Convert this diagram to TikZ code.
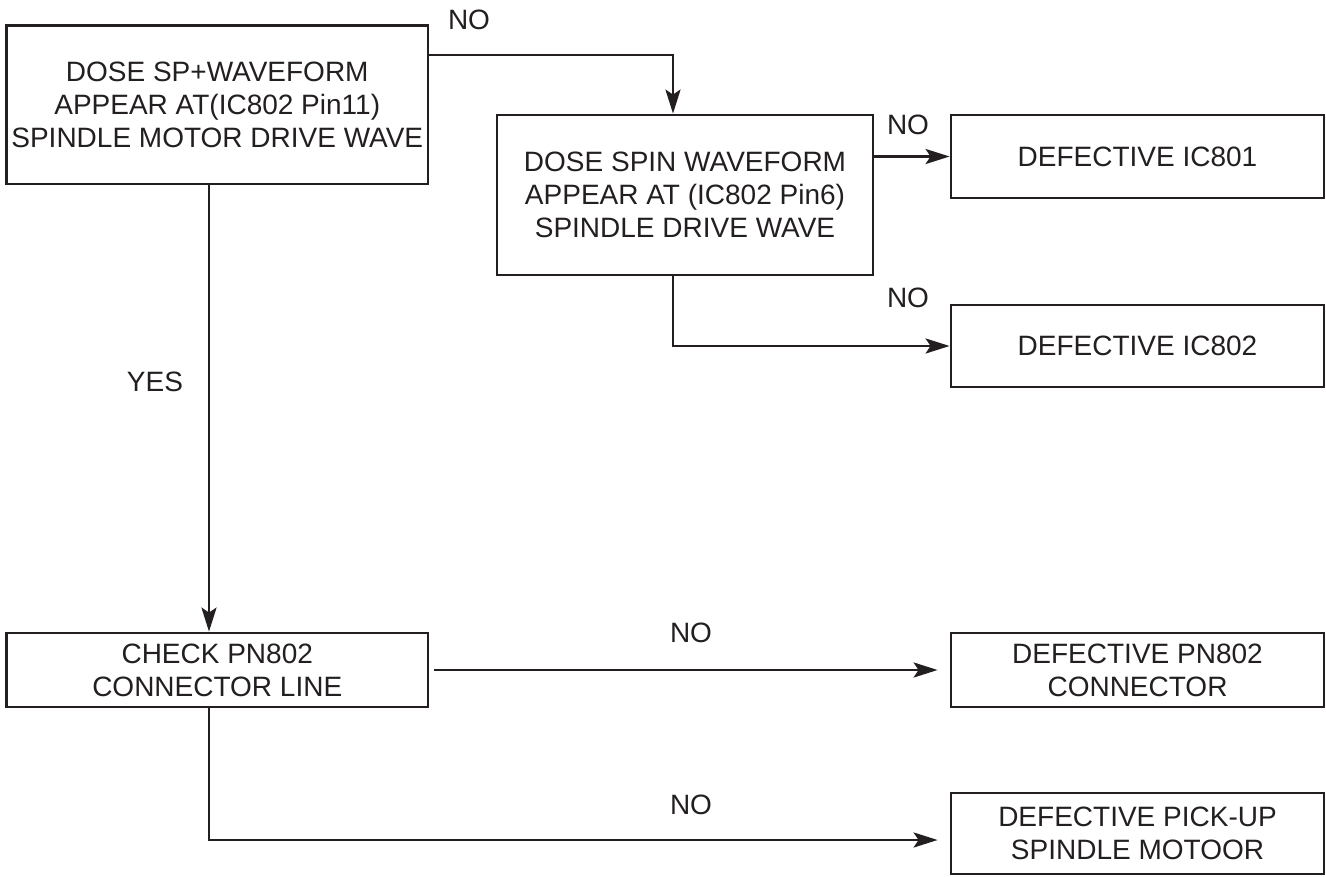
\documentclass[tikz,border=0pt]{standalone}
\usepackage{fontspec}
\setmainfont{Liberation Sans}
\usetikzlibrary{arrows.meta}
\definecolor{ink}{RGB}{35,31,32}
\begin{document}
\begin{tikzpicture}[x=1pt,y=-1pt,
  every node/.style={font=\fontsize{28}{33}\selectfont, text=ink},
  box/.style={draw=ink, line width=2.8pt, rectangle, inner sep=0pt, align=center},
  link/.style={draw=ink, line width=2.8pt},
  arr/.style={link, -{Stealth[length=24pt,width=15pt,inset=5pt]}},
  lbl/.style={inner sep=0pt}]
\useasboundingbox (0,0) rectangle (1326,876);

% decision and result boxes
\node[box, minimum width=421.5pt, minimum height=158.5pt] (A) at (217.25,104.75)
  {DOSE SP+WAVEFORM\\APPEAR AT(IC802 Pin11)\\SPINDLE MOTOR DRIVE WAVE};
\node[box, minimum width=376pt, minimum height=160pt] (B) at (685,195)
  {DOSE SPIN WAVEFORM\\APPEAR AT (IC802 Pin6)\\SPINDLE DRIVE WAVE};
\node[box, minimum width=373pt, minimum height=83pt] (C) at (1137.5,156.5) {DEFECTIVE IC801};
\node[box, minimum width=373pt, minimum height=82pt] (D) at (1137.5,346) {DEFECTIVE IC802};
\node[box, minimum width=421.5pt, minimum height=74pt] (E) at (217.25,670)
  {CHECK PN802\\CONNECTOR LINE};
\node[box, minimum width=373pt, minimum height=74pt] (F) at (1137.5,670)
  {DEFECTIVE PN802\\CONNECTOR};
\node[box, minimum width=373pt, minimum height=81pt] (G) at (1137.5,833.5)
  {DEFECTIVE PICK-UP\\SPINDLE MOTOOR};

% bend points of the connectors
\coordinate (k1) at (673,55);
\coordinate (k2) at (209,840);
\coordinate (k3) at (673,346);

% connectors
\draw[arr] (A.east |- k1) -- (k1) -- (B.north -| k1);
\draw[arr] (B.east |- C.west) -- (C.west);
\draw[arr] (B.south -| k3) -- (k3) -- (D.west);
\draw[arr] (A.south -| k2) -- (E.north -| k2);
\draw[arr, shorten <=5pt, shorten >=12pt] (E.east |- F.west) -- (F.west);
\draw[arr, shorten >=12pt] (E.south -| k2) -- (k2) -- (G.west |- k2);

% branch labels
\node[lbl] (n1) at (469,20) {NO};
\node[lbl] (n2) at (908,125) {NO};
\node[lbl] (n3) at (908,298) {NO};
\node[lbl] (y1) at (155,382) {YES};
\node[lbl] (n4) at (691,633) {NO};
\node[lbl] (n5) at (691,805) {NO};
\end{tikzpicture}
\end{document}
